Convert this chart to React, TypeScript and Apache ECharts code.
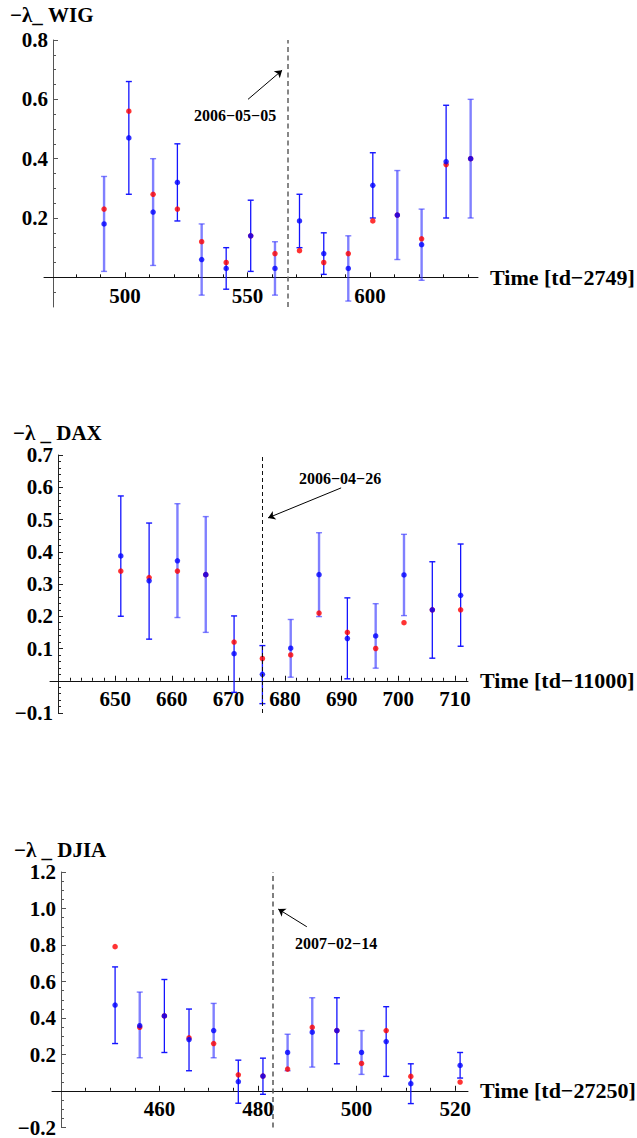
import React, { useEffect, useRef } from "react";
import * as echarts from "echarts";

const FONT = '"Liberation Serif", "Times New Roman", Times, serif';

// ---------- WIG ----------
const wigTime = [491.5, 501.6, 511.5, 521.4, 531.3, 541.3, 551.3, 561.2, 571.2, 581.1, 591.1, 601.1, 611.1, 621.0, 631.0, 641.0];
const wigMean = [0.18, 0.47, 0.22, 0.32, 0.06, 0.03, 0.14, 0.03, 0.19, 0.08, 0.03, 0.31, 0.21, 0.11, 0.39, 0.40];
const wigFit = [0.23, 0.56, 0.28, 0.23, 0.12, 0.05, 0.14, 0.08, 0.09, 0.05, 0.08, 0.19, 0.21, 0.13, 0.38, 0.40];
const wigHigh = [0.34, 0.66, 0.40, 0.45, 0.18, 0.10, 0.26, 0.12, 0.28, 0.15, 0.14, 0.42, 0.36, 0.23, 0.58, 0.60];
const wigLow = [0.02, 0.28, 0.04, 0.19, -0.06, -0.04, 0.02, -0.06, 0.10, 0.01, -0.08, 0.20, 0.06, -0.01, 0.20, 0.20];
const wigXTicks = [500, 550, 600];
const wigYTicks = [0.2, 0.4, 0.6, 0.8];
const wigEvent = 566.3;
const wigEventLabel = "2006\u221205\u221205";

// ---------- DAX ----------
const daxTime = [651, 656, 661, 666, 671, 676, 681, 686, 691, 696, 701, 706, 711];
const daxMean = [0.387, 0.31, 0.372, 0.329, 0.084, 0.02, 0.101, 0.329, 0.131, 0.139, 0.328, 0.22, 0.265];
const daxFit = [0.34, 0.32, 0.34, 0.329, 0.12, 0.069, 0.08, 0.21, 0.15, 0.10, 0.18, 0.22, 0.22];
const daxHigh = [0.573, 0.489, 0.549, 0.509, 0.201, 0.109, 0.19, 0.459, 0.257, 0.239, 0.454, 0.369, 0.424];
const daxLow = [0.20, 0.129, 0.196, 0.15, -0.036, -0.071, 0.011, 0.199, 0.006, 0.039, 0.202, 0.07, 0.107];
const daxXTicks = [650, 660, 670, 680, 690, 700, 710];
const daxYTicks = [-0.1, 0.1, 0.2, 0.3, 0.4, 0.5, 0.6, 0.7];
const daxEvent = 676;
const daxEventLabel = "2006\u221204\u221226";

// ---------- DJIA ----------
const djiaTime = [451, 456, 461, 466, 471, 476, 481, 486, 491, 496, 501, 506, 511, 521];
const djiaMean = [0.471, 0.358, 0.411, 0.282, 0.331, 0.051, 0.082, 0.211, 0.322, 0.331, 0.211, 0.271, 0.04, 0.14];
const djiaFit = [0.791, 0.349, 0.411, 0.291, 0.26, 0.089, 0.082, 0.12, 0.349, 0.331, 0.151, 0.331, 0.08, 0.049];
const djiaHigh = [0.68, 0.542, 0.611, 0.449, 0.48, 0.169, 0.18, 0.311, 0.511, 0.511, 0.331, 0.462, 0.149, 0.211];
const djiaLow = [0.26, 0.182, 0.211, 0.111, 0.182, -0.067, -0.018, 0.111, 0.131, 0.149, 0.091, 0.08, -0.069, 0.071];
const djiaXTicks = [460, 480, 500, 520];
const djiaYTicks = [-0.2, 0.2, 0.4, 0.6, 0.8, 1.0, 1.2];
const djiaEvent = 482.9;
const djiaEventLabel = "2007\u221202\u221214";

function steps(from: number, to: number, step: number, skip: number[]): number[] {
  const out: number[] = [];
  const n = Math.round((to - from) / step);
  for (let k = 0; k <= n; k++) {
    const v = +(from + k * step).toFixed(6);
    if (!skip.some((s) => Math.abs(s - v) < 1e-9)) out.push(v);
  }
  return out;
}

type Panel = {
  title: string;
  titlePos: [number, number];
  xName: string;
  time: number[];
  mean: number[];
  fit: number[];
  low: number[];
  high: number[];
  light: number[];
  grid: { left: number; top: number; width: number; height: number };
  xMin: number;
  xMax: number;
  yMin: number;
  yMax: number;
  yOff: number;
  xMajor: number[];
  xMinor: number[];
  yMajor: number[];
  yMinor: number[];
  event: number;
  eventLabel: string;
  labelPos: [number, number];
  arrowFrom: [number, number];
  arrowTo: [number, number];
  dash: { color: string; width: number; dash: number[] };
  yAxisColor: string;
};

const panels: Panel[] = [
  {
    title: "\u2212\u03bb_ WIG",
    titlePos: [10, 16],
    xName: "Time [td\u22122749]",
    time: wigTime, mean: wigMean, fit: wigFit, low: wigLow, high: wigHigh,
    light: [0, 2, 4, 7, 10, 12, 13, 15],
    grid: { left: 44, top: 40, width: 434, height: 267 },
    xMin: 467, xMax: 644, yMin: -0.1, yMax: 0.8, yOff: 9,
    xMajor: wigXTicks,
    xMinor: steps(480, 640, 10, wigXTicks),
    yMajor: wigYTicks,
    yMinor: steps(-0.05, 0.75, 0.05, [0, ...wigYTicks]),
    event: wigEvent,
    eventLabel: wigEventLabel,
    labelPos: [235, 115],
    arrowFrom: [550.2, 0.6],
    arrowTo: [564.1, 0.698],
    dash: { color: "#6a6a6a", width: 1.6, dash: [5, 3.5] },
    yAxisColor: "#555",
  },
  {
    title: "\u2212\u03bb _ DAX",
    titlePos: [13, 434],
    xName: "Time [td\u221211000]",
    time: daxTime, mean: daxMean, fit: daxFit, low: daxLow, high: daxHigh,
    light: [2, 3, 6, 7, 9, 10],
    grid: { left: 50, top: 455, width: 418, height: 258 },
    xMin: 638.5, xMax: 712.3, yMin: -0.1, yMax: 0.7, yOff: 8,
    xMajor: daxXTicks,
    xMinor: steps(642, 712, 2, daxXTicks),
    yMajor: daxYTicks,
    yMinor: steps(-0.08, 0.68, 0.02, [0, ...daxYTicks]),
    event: daxEvent,
    eventLabel: daxEventLabel,
    labelPos: [340, 478],
    arrowFrom: [689.9, 0.598],
    arrowTo: [677.0, 0.505],
    dash: { color: "#111", width: 1, dash: [4, 3] },
    yAxisColor: "#222",
  },
  {
    title: "\u2212\u03bb _ DJIA",
    titlePos: [14, 851],
    xName: "Time [td\u221227250]",
    time: djiaTime, mean: djiaMean, fit: djiaFit, low: djiaLow, high: djiaHigh,
    light: [1, 4, 7, 8, 10],
    grid: { left: 52, top: 872, width: 416, height: 257 },
    xMin: 438.2, xMax: 522.6, yMin: -0.2, yMax: 1.2, yOff: 9,
    xMajor: djiaXTicks,
    xMinor: steps(445, 520, 5, djiaXTicks),
    yMajor: djiaYTicks,
    yMinor: steps(-0.15, 1.15, 0.05, [0, ...djiaYTicks]),
    event: djiaEvent,
    eventLabel: djiaEventLabel,
    labelPos: [336, 943],
    arrowFrom: [489.9, 0.9],
    arrowTo: [484.1, 0.997],
    dash: { color: "#555", width: 1.5, dash: [5, 3.5] },
    yAxisColor: "#555",
  },
];

function fmtY(v: number): string {
  return v < 0 ? "\u2212" + (-v).toFixed(1) : v.toFixed(1);
}

function buildOption() {
  const grid: any[] = [];
  const xAxis: any[] = [];
  const yAxis: any[] = [];
  const series: any[] = [];
  const graphic: any[] = [];

  panels.forEach((p, i) => {
    grid.push({ ...p.grid, containLabel: false });
    const labelStyle = {
      fontFamily: FONT,
      fontWeight: "bold",
      fontSize: 21,
      color: "#000",
    };
    // x axis sits on y = 0: shift it up from the grid bottom by the pixel height of the negative part
    const zeroShift = -(p.grid.height * (0 - p.yMin)) / (p.yMax - p.yMin);
    // major x axis
    xAxis.push({
      type: "value",
      gridIndex: i,
      min: p.xMin,
      max: p.xMax,
      position: "bottom",
      offset: zeroShift,
      name: p.xName,
      nameLocation: "end",
      nameGap: 12,
      nameTextStyle: { fontFamily: FONT, fontWeight: "bold", fontSize: 22, color: "#000" },
      axisLine: { show: true, onZero: false, lineStyle: { color: "#111", width: 1 } },
      axisTick: { show: true, inside: true, length: 5, customValues: p.xMajor, lineStyle: { color: "#111", width: 1 } },
      axisLabel: {
        show: true,
        customValues: p.xMajor,
        formatter: (v: number) => String(Math.round(v)),
        margin: 8,
        ...labelStyle,
      },
      splitLine: { show: false },
    });
    // minor x axis
    xAxis.push({
      type: "value",
      gridIndex: i,
      min: p.xMin,
      max: p.xMax,
      position: "bottom",
      offset: zeroShift,
      axisLine: { show: false, onZero: false },
      axisTick: { show: true, inside: true, length: 3, customValues: p.xMinor, lineStyle: { color: "#111", width: 1 } },
      axisLabel: { show: false },
      splitLine: { show: false },
    });
    // major y axis
    yAxis.push({
      type: "value",
      gridIndex: i,
      min: p.yMin,
      max: p.yMax,
      position: "left",
      offset: -p.yOff,
      axisLine: { show: true, onZero: false, lineStyle: { color: p.yAxisColor, width: 1 } },
      axisTick: { show: true, inside: true, length: 5, customValues: p.yMajor, lineStyle: { color: p.yAxisColor, width: 1 } },
      axisLabel: { show: true, customValues: p.yMajor, formatter: fmtY, margin: 5, ...labelStyle },
      splitLine: { show: false },
    });
    // minor y axis
    yAxis.push({
      type: "value",
      gridIndex: i,
      min: p.yMin,
      max: p.yMax,
      position: "left",
      offset: -p.yOff,
      axisLine: { show: false, onZero: false },
      axisTick: { show: true, inside: true, length: 3, customValues: p.yMinor, lineStyle: { color: p.yAxisColor, width: 1 } },
      axisLabel: { show: false },
      splitLine: { show: false },
    });

    const lightSet = new Set(p.light);
    const xi = 2 * i;
    const yi = 2 * i;

    // error bars
    series.push({
      type: "custom",
      xAxisIndex: xi,
      yAxisIndex: yi,
      silent: true,
      clip: false,
      z: 2,
      encode: { x: 0, y: [1, 2] },
      data: p.time.map((t, k) => [t, p.low[k], p.high[k]]),
      renderItem: (params: any, api: any) => {
        const x = api.value(0);
        const lo = api.coord([x, api.value(1)]);
        const hi = api.coord([x, api.value(2)]);
        const light = lightSet.has(params.dataIndex);
        const stroke = light ? "rgba(50,50,255,0.62)" : "#1414ff";
        const lw = light ? 2.4 : 1.3;
        const cw = 3;
        return {
          type: "group",
          children: [
            { type: "line", shape: { x1: hi[0], y1: hi[1], x2: lo[0], y2: lo[1] }, style: { stroke, lineWidth: lw } },
            { type: "line", shape: { x1: hi[0] - cw, y1: hi[1], x2: hi[0] + cw, y2: hi[1] }, style: { stroke, lineWidth: 1.4 } },
            { type: "line", shape: { x1: lo[0] - cw, y1: lo[1], x2: lo[0] + cw, y2: lo[1] }, style: { stroke, lineWidth: 1.4 } },
          ],
        };
      },
    });

    // red points + dashed event line
    series.push({
      type: "scatter",
      xAxisIndex: xi,
      yAxisIndex: yi,
      symbol: "circle",
      symbolSize: 5.5,
      z: 3,
      itemStyle: { color: "#ff0000" },
      data: p.time.map((t, k) => [t, p.fit[k]]),
      markLine: {
        silent: true,
        symbol: ["none", "none"],
        label: { show: false },
        lineStyle: { color: p.dash.color, width: p.dash.width, type: p.dash.dash },
        data: [{ xAxis: p.event }],
      },
    });

    // blue points + arrow
    series.push({
      type: "scatter",
      xAxisIndex: xi,
      yAxisIndex: yi,
      symbol: "circle",
      symbolSize: 5.5,
      z: 4,
      itemStyle: { color: "#0000ff" },
      data: p.time.map((t, k) => [t, p.mean[k]]),
      markLine: {
        silent: true,
        symbol: ["none", "arrow"],
        symbolSize: 7,
        label: { show: false },
        lineStyle: { color: "#000", width: 1, type: "solid" },
        data: [[{ coord: p.arrowFrom }, { coord: p.arrowTo }]],
      },
    });

    graphic.push({
      type: "text",
      left: p.titlePos[0],
      top: p.titlePos[1] - 12,
      style: { text: p.title, fontFamily: FONT, fontWeight: "bold", fontSize: 21, fill: "#000" },
    });
    graphic.push({
      type: "text",
      x: p.labelPos[0],
      y: p.labelPos[1],
      style: {
        text: p.eventLabel,
        fontFamily: FONT,
        fontWeight: "bold",
        fontSize: 16,
        fill: "#000",
        textAlign: "center",
        textVerticalAlign: "middle",
      },
    });
  });

  return { animation: false, backgroundColor: "#fff", grid, xAxis, yAxis, series, graphic };
}

export default function App() {
  const ref = useRef<HTMLDivElement>(null);
  useEffect(() => {
    if (!ref.current) return;
    const chart = echarts.init(ref.current, null, { renderer: "svg" });
    chart.setOption(buildOption() as any);
    return () => chart.dispose();
  }, []);
  return (
    <div
      ref={ref}
      style={{ position: "absolute", left: 0, top: 0, width: 637, height: 1138, background: "#fff" }}
    />
  );
}
